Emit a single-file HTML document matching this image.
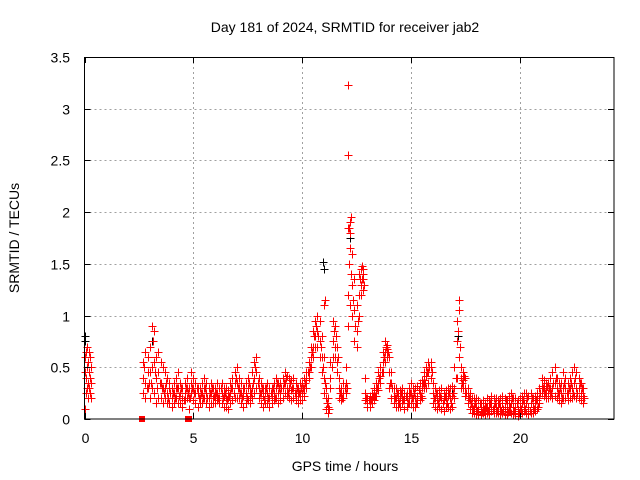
<!DOCTYPE html>
<html><head><meta charset="utf-8"><style>
body{margin:0;background:#fff;}
svg{display:block;font-family:"Liberation Sans",sans-serif;}
</style></head><body>
<svg id="chart" width="640" height="480">
<text x="345" y="32" font-size="14" text-anchor="middle">Day 181 of 2024, SRMTID for receiver jab2</text>
<text x="345" y="471" font-size="14" text-anchor="middle">GPS time / hours</text>
<text x="19" y="238" font-size="14" text-anchor="middle" transform="rotate(-90 19 238)">SRMTID / TECUs</text>
<g id="grid"></g>
<g id="marks"></g>
<rect x="84.5" y="57.5" width="529.5" height="361.5" fill="none" stroke="#000" stroke-width="1" shape-rendering="crispEdges"/>
<g id="ticks"></g>
</svg>
<script>
const xTicks=[0,5,10,15,20];
const yTicks=[0,0.5,1,1.5,2,2.5,3,3.5];
const yTickLabels=["0","0.5","1","1.5","2","2.5","3","3.5"];
const seg0Start=0.0, seg0Step=0.05;
const seg0A=[.6,.65,.7,.55,.65,.6,.5];
const seg0B=[.45,.4,.5,.35,.45,.4,.35];
const seg0C=[.1,.25,.3,.2,.3,.25,.2];
const mainStart=2.7, mainStep=0.1;
const mainA=[.55,.65,.6,
.7,.9,.85,.6,.65,.55,.5,.45,.4,.35,
.3,.35,.4,.45,.35,.3,.35,.4,.3,.45,
.4,.35,.3,.3,.35,.4,.35,.3,.35,.3,
.3,.35,.3,.35,.3,.3,.28,.35,.4,.45,
.5,.4,.35,.3,.35,.4,.3,.45,.55,.6,
.4,.35,.3,.3,.35,.3,.3,.35,.4,.35,
.35,.4,.45,.42,.4,.38,.4,.35,.3,.35,
.35,.4,.45,.55,.7,.85,.95,1.0,.95,.8,
.6,.3,.2,.55,.95,.9,.7,.4,.3,.35,
.5,1.85,1.9,1.6,1.35,1.1,1.4,1.45,1.45,.4,
.2,.22,.25,.3,.35,.45,.5,.65,.75,.72,
.6,.45,.3,.3,.25,.28,.3,.25,.25,.3,
.35,.3,.3,.32,.35,.38,.45,.5,.55,.55,
.35,.3,.25,.28,.3,.25,.28,.3,.3,.32,
.5,.95,1.15,.5,.45,.4,.3,.25,.2,.2,
.2,.18,.15,.18,.15,.2,.18,.22,.2,.2,
.18,.2,.22,.2,.18,.22,.25,.2,.2,.18,
.2,.22,.25,.25,.22,.25,.2,.22,.25,.3,
.4,.38,.35,.35,.4,.45,.5,.4,.35,.35,
.45,.4,.35,.4,.45,.5,.45,.4,.35,.3];
const mainB=[.4,.35,.45,
.45,.5,.55,.4,.45,.35,.3,.3,.25,.3,
.2,.25,.3,.3,.25,.2,.25,.3,.2,.35,
.3,.25,.25,.2,.25,.3,.25,.2,.25,.2,
.22,.25,.2,.25,.22,.2,.2,.25,.3,.35,
.35,.3,.25,.22,.25,.3,.22,.3,.4,.45,
.3,.25,.22,.25,.25,.2,.22,.25,.3,.25,
.25,.3,.35,.3,.3,.28,.3,.25,.22,.25,
.25,.3,.38,.45,.6,.7,.8,.85,.75,.6,
.4,.2,.12,.4,.75,.7,.55,.3,.25,.25,
.35,1.2,1.8,1.3,1.05,.85,1.2,1.3,1.35,.25,
.15,.15,.2,.25,.28,.35,.42,.55,.65,.68,
.45,.35,.22,.2,.18,.2,.22,.18,.2,.22,
.25,.2,.2,.22,.25,.3,.38,.42,.45,.5,
.25,.2,.18,.2,.2,.18,.2,.22,.2,.22,
.3,.75,1.05,.4,.38,.3,.22,.18,.12,.12,
.12,.1,.1,.12,.1,.12,.12,.15,.12,.12,
.12,.12,.15,.12,.12,.15,.15,.12,.12,.1,
.12,.15,.15,.15,.12,.15,.12,.15,.18,.2,
.32,.3,.28,.25,.3,.3,.35,.3,.25,.25,
.3,.3,.25,.3,.3,.35,.3,.3,.25,.22];
const mainC=[.25,.2,.3,
.2,.3,.25,.15,.2,.2,.15,.2,.15,.15,
.12,.15,.2,.15,.15,.12,.18,.2,.1,.25,
.18,.15,.12,.15,.15,.2,.15,.12,.15,.15,
.15,.18,.15,.15,.12,.12,.1,.15,.18,.2,
.2,.2,.15,.12,.15,.18,.15,.2,.25,.3,
.2,.15,.12,.15,.15,.12,.15,.18,.2,.15,
.18,.2,.25,.22,.2,.18,.2,.18,.15,.18,
.18,.22,.3,.4,.5,.6,.7,.7,.6,.45,
.25,.1,.06,.3,.6,.6,.45,.2,.18,.2,
.25,.9,1.1,1.0,.75,.7,1.0,1.2,1.25,.18,
.12,.12,.15,.18,.22,.28,.35,.45,.55,.6,
.3,.2,.15,.12,.12,.12,.15,.1,.12,.15,
.15,.12,.12,.15,.18,.2,.3,.3,.35,.4,
.15,.12,.1,.12,.1,.08,.12,.12,.1,.12,
.2,.4,.6,.3,.3,.22,.15,.1,.06,.06,
.05,.05,.04,.06,.05,.06,.05,.08,.06,.06,
.06,.05,.06,.05,.04,.08,.06,.05,.05,.03,
.05,.06,.08,.06,.05,.06,.06,.08,.1,.15,
.25,.22,.2,.2,.22,.2,.22,.2,.18,.15,
.2,.2,.18,.2,.2,.22,.2,.2,.18,.15];
const midStart=2.75;
const mainD=[.5,.3,.35,
.35,.75,.45,.3,.35,.3,.25,.35,.2,.25,
.25,.2,.3,.22,.3,.18,.3,.25,.2,.3,
.25,.3,.2,.25,.2,.3,.2,.25,.3,.22,
.25,.2,.3,.2,.25,.18,.22,.3,.25,.4,
.3,.25,.2,.3,.2,.35,.25,.35,.5,.35,
.25,.3,.18,.3,.2,.25,.3,.2,.35,.3,
.3,.35,.4,.25,.35,.3,.25,.3,.25,.3,
.3,.35,.45,.5,.65,.8,.9,.8,.7,.5,
.35,.15,.1,.5,.85,.8,.6,.25,.2,.3,
.3,1.5,1.4,1.15,.9,.95,1.35,1.35,1.3,.2,
.18,.18,.22,.22,.3,.4,.45,.6,.7,.65,
.35,.3,.2,.25,.15,.25,.18,.22,.15,.25,
.2,.25,.15,.28,.22,.35,.35,.45,.5,.45,
.2,.25,.15,.22,.15,.22,.15,.25,.15,.25,
.4,.85,.7,.35,.42,.25,.2,.15,.1,.15,
.08,.15,.07,.1,.12,.08,.15,.1,.15,.08,
.15,.08,.1,.18,.07,.12,.2,.08,.15,.06,
.1,.18,.1,.2,.08,.2,.1,.18,.12,.25,
.3,.25,.32,.3,.25,.35,.4,.25,.3,.2,
.35,.25,.3,.35,.25,.4,.25,.35,.3,.2];
const spikeT=[12.1,12.1,12.15,12.2,12.25,12.2,11.0,11.05,12.75,12.8];
const spikeV=[3.23,2.55,1.85,1.8,1.95,1.65,1.1,1.15,1.48,1.4];
const zeroT=[2.6,2.63,4.7,4.75,4.78];
const blackT=[0.0,0.02,3.1,10.95,11.0,12.2,16.9,17.15,21.7];
const blackV=[0.8,0.75,0.75,1.52,1.45,1.75,0.3,0.8,0.4];

const X0=84.5,X1=614,XMAX=24.33,Y0=419,Y1=57,YMAX=3.5;
const xs=t=>X0+(X1-X0)*t/XMAX;
const ys=v=>Y0-(Y0-Y1)*v/YMAX;
const NS="http://www.w3.org/2000/svg";
const grid=document.getElementById('grid'),ticks=document.getElementById('ticks'),marks=document.getElementById('marks');
function mk(tag,attrs,parent){const e=document.createElementNS(NS,tag);for(const k in attrs)e.setAttribute(k,attrs[k]);parent.appendChild(e);return e;}
xTicks.forEach((t,i)=>{const x=Math.round(xs(t))+0.5;
 if(t>0){const g=mk('line',{x1:x,x2:x,y1:Y1,y2:Y0,stroke:'#a0a0a0','stroke-dasharray':'2,3','shape-rendering':'crispEdges'},grid);
 
 }
 const l=mk('path',{d:`M${x},${Y0}v-6M${x},${Y1}v6`,stroke:'#000','shape-rendering':'crispEdges'},ticks);
 
 
 const tx=mk('text',{x:x,y:Y0+24,'font-size':14,'text-anchor':'middle'},ticks);tx.textContent=String(t);
 
 
});
yTicks.forEach((v,i)=>{const y=Math.round(ys(v))+0.5;
 if(v>0&&v<YMAX){const g=mk('line',{x1:X0,x2:X1,y1:y,y2:y,stroke:'#a0a0a0','stroke-dasharray':'2,3','shape-rendering':'crispEdges'},grid);
 
 }
 const l=mk('path',{d:`M${X0},${y}h6M${X1},${y}h-6`,stroke:'#000','shape-rendering':'crispEdges'},ticks);
 
 
 const tx=mk('text',{x:70,y:y+5,'font-size':14,'text-anchor':'end'},ticks);tx.textContent=yTickLabels[i];
 
 
});
function plus(t,v){const x=Math.round(xs(t))+0.5,y=Math.round(ys(v))+0.5;return `M${x-4},${y}h8M${x},${y-4}v8`;}
let db='';blackT.forEach((t,i)=>{db+=plus(t,blackV[i]);});
const bp=mk('path',{d:db,stroke:'#000','stroke-width':1,fill:'none','shape-rendering':'crispEdges'},marks);


let d='';
[seg0A,seg0B,seg0C].forEach(a=>a.forEach((v,i)=>{d+=plus(seg0Start+i*seg0Step,v);}));
[mainA,mainB,mainC].forEach(a=>a.forEach((v,i)=>{d+=plus(mainStart+i*mainStep,v);}));
mainD.forEach((v,i)=>{d+=plus(midStart+i*mainStep,v);});
spikeT.forEach((t,i)=>{d+=plus(t,spikeV[i]);});
const rp=mk('path',{d:d,stroke:'#ff0000','stroke-width':1,fill:'none','shape-rendering':'crispEdges'},marks);


zeroT.forEach(t=>{const r=mk('rect',{x:Math.round(xs(t))-2,y:Y0-3,width:5,height:6,fill:'#ff0000'},marks);
 
 });
</script>
</body></html>
